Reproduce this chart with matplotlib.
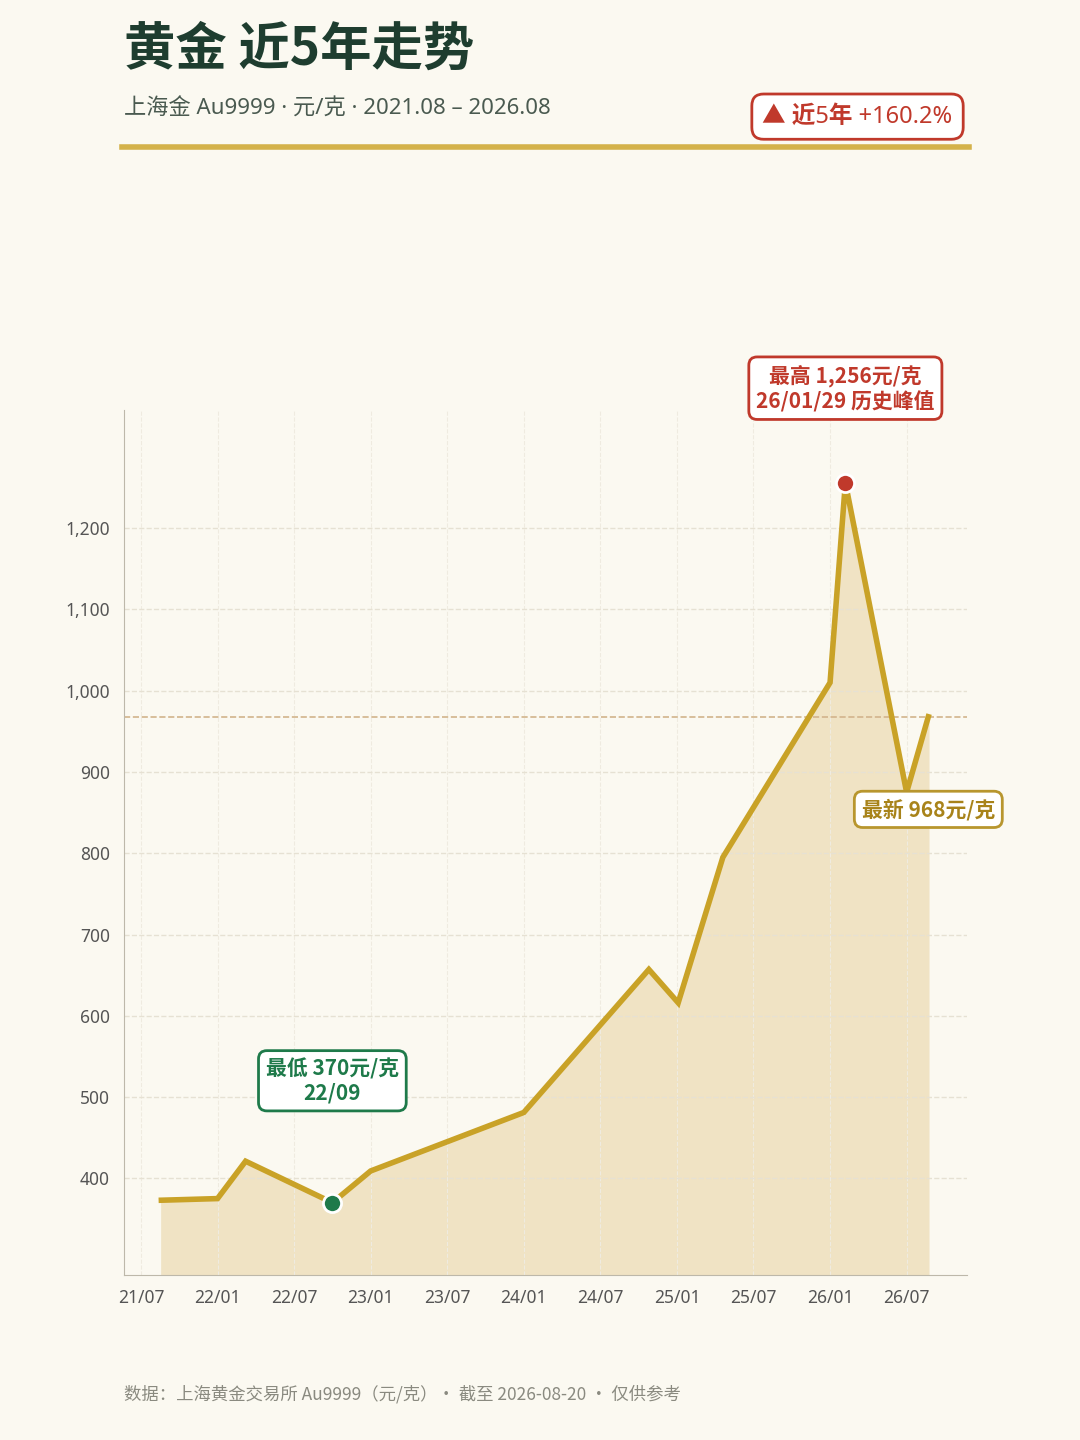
import numpy as np
import matplotlib.pyplot as plt
from matplotlib.lines import Line2D

plt.rcParams['font.family'] = ['Noto Sans CJK SC', 'DejaVu Sans']

# data: dates (year, month as float) and prices in 元/克
dates = [(2021, 8.6), (2022, 1.0), (2022, 3.2), (2022, 10.0), (2023, 1.0), (2024, 1.0),
         (2024, 10.8), (2025, 1.1), (2025, 4.6), (2026, 1.0), (2026, 2.2), (2026, 7.0), (2026, 8.7)]
prices = [373, 375, 421, 370, 409, 481, 657, 616, 795, 1010, 1256, 875, 968]
tick_labels = ['21/07', '22/01', '22/07', '23/01', '23/07', '24/01', '24/07',
               '25/01', '25/07', '26/01', '26/07']
y_ticks = [400, 500, 600, 700, 800, 900, 1000, 1100, 1200]

BG = '#FBF9F1'
GOLD = '#C9A227'
FILL = '#F0E3C4'
RED = '#C0392B'
GREEN = '#1E7A4A'
DARK = '#1E3D2F'
LATIN = ['Noto Sans', 'Noto Sans CJK SC']

x = np.array([(y - 2021) * 12 + (m - 7) for y, m in dates])
p = np.array(prices)

fig = plt.figure(figsize=(10.8, 14.4), dpi=100, facecolor=BG)
ax = fig.add_axes([0.1148, 0.1146, 0.7802, 0.6004])
ax.set_facecolor(BG)

ax.fill_between(x, p, 200, color=FILL, zorder=1)
ax.plot(x, p, color=GOLD, lw=4, solid_joinstyle='miter', zorder=3)
ax.axhline(968, color='#D2B48C', ls='--', lw=1.2, zorder=2)

ax.set_xlim(-1.33, 64.7)
ax.set_ylim(281, 1345)
ax.set_xticks(np.arange(0, 61, 6))
ax.set_xticklabels(tick_labels, family=LATIN)
ax.set_yticks(y_ticks)
ax.set_yticklabels([f'{v:,}' for v in y_ticks], family=LATIN)
ax.tick_params(length=0, labelsize=12.5, colors='#555555', pad=10)
ax.grid(axis='y', ls='--', color='#E6E1D3', lw=1)
ax.grid(axis='x', ls='--', color='#EFEBE0', lw=0.8)
for s in ['top', 'right']:
    ax.spines[s].set_visible(False)
for s in ['left', 'bottom']:
    ax.spines[s].set_color('#BDB8AA')

# markers
imax = int(np.argmax(p))
imin = int(np.argmin(p))
ax.scatter([x[imax]], [p[imax]], s=170, color=RED, edgecolor='white', lw=2, zorder=5)
ax.scatter([x[imin]], [p[imin]], s=170, color=GREEN, edgecolor='white', lw=2, zorder=5)

box = dict(boxstyle='round,pad=0.35,rounding_size=0.4', fc='white', lw=2)
ax.text(x[imax], 1372, '最高 1,256元/克\n26/01/29 历史峰值', ha='center', va='center',
        fontsize=15, fontweight='bold', color=RED, linespacing=1.2,
        bbox={**box, 'ec': RED}, zorder=6, clip_on=False)
ax.text(x[imin], 520, '最低 370元/克\n22/09', ha='center', va='center',
        fontsize=15, fontweight='bold', color=GREEN, linespacing=1.2,
        bbox={**box, 'ec': GREEN}, zorder=6)
ax.text(61.7, 854, '最新 968元/克', ha='center', va='center',
        fontsize=15, fontweight='bold', color='#A8831A',
        bbox={**box, 'ec': '#B8962E'}, zorder=6)

# header
fig.text(0.115, 0.966, '黄金 近5年走势', fontsize=37, fontweight='bold', color=DARK, va='center')
fig.text(0.115, 0.924, '上海金 Au9999 · 元/克 · 2021.08 – 2026.08', fontsize=16,
         color='#4A5A50', va='center', family=LATIN)
fig.add_artist(Line2D([0.113, 0.897], [0.898, 0.898], color='#D4B24A', lw=4))
fig.text(0.794, 0.919, '▲ 近5年 +160.2%', fontsize=17, fontweight='bold', color=RED,
         ha='center', va='center', family=['Noto Sans', 'Noto Sans CJK SC', 'DejaVu Sans'],
         bbox=dict(boxstyle='round,pad=0.45,rounding_size=0.5', fc='white', ec=RED, lw=2))

fig.text(0.115, 0.032, '数据：上海黄金交易所 Au9999（元/克）· 截至 2026-08-20 · 仅供参考',
         fontsize=12.5, color='#8A8A80', va='center')

fig.savefig('out.png', dpi=100, facecolor=BG)
